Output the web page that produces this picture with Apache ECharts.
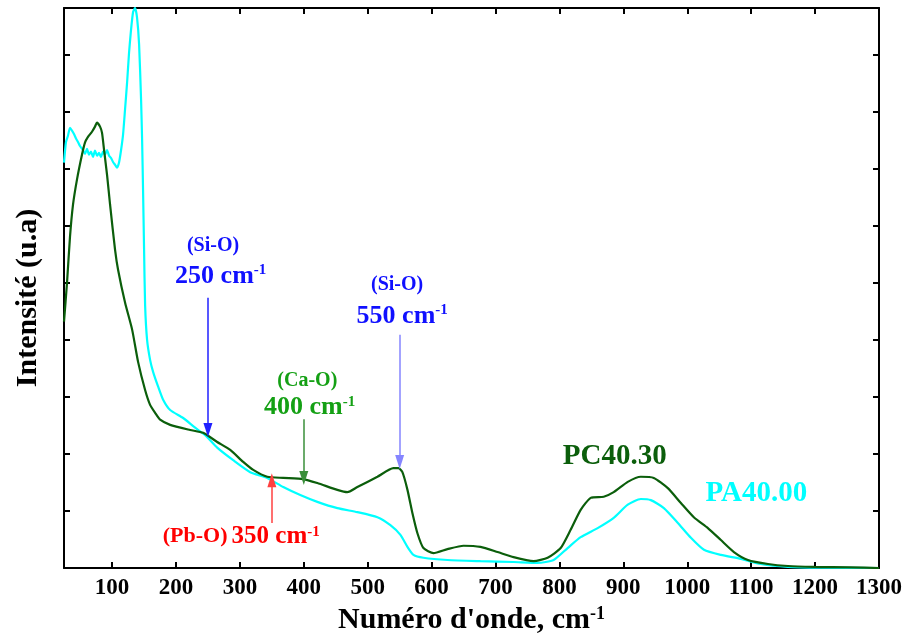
<!DOCTYPE html>
<html><head><meta charset="utf-8">
<script src="https://cdn.jsdelivr.net/npm/echarts@6/dist/echarts.min.js"></script>
<style>html,body{margin:0;padding:0;background:#fff}#c{width:906px;height:633px}</style>
</head><body><div id="c"></div>
<script>
// ---- data ----
const waveTicks = [100,200,300,400,500,600,700,800,900,1000,1100,1200,1300];
const intensityTicks = [1,2,3,4,5,6,7,8,9];

const pcX = [24.8,29.5,34.2,38.9,45.1,53.0,57.6,62.3,68.6,73.3,76.4,81.2,84.3,87.5,92.2,96.9,104.7,109.4,120.4,131.4,140.8,151.7,159.5,167.4,175.2,190.9,222.2,242.5,264.5,284.9,305.2,320.9,342.8,367.9,399.2,421.2,452.5,468.1,483.8,515.2,540.2,548.1,554.3,562.2,570.0,577.8,587.2,602.9,624.8,649.9,676.5,703.2,728.2,759.6,781.5,801.9,817.5,833.2,848.9,869.3,884.9,906.9,927.3,947.6,969.6,990.0,1010.3,1032.3,1052.6,1073.0,1094.9,1126.3,1157.6,1198.4,1256.3,1300];
const pcY = [4.32,5.00,5.81,6.37,6.81,7.25,7.46,7.56,7.65,7.74,7.81,7.74,7.63,7.33,6.89,6.37,5.58,5.23,4.65,4.18,3.61,3.12,2.86,2.72,2.60,2.51,2.42,2.37,2.21,2.07,1.86,1.72,1.60,1.58,1.56,1.49,1.37,1.33,1.42,1.60,1.75,1.75,1.68,1.37,0.96,0.61,0.35,0.26,0.33,0.39,0.37,0.28,0.19,0.12,0.18,0.35,0.67,1.02,1.23,1.25,1.33,1.51,1.60,1.58,1.40,1.14,0.89,0.70,0.49,0.28,0.14,0.07,0.035,0.02,0.01,0.0];

const paX = [24.8,27.9,31.0,34.2,37.3,40.4,43.6,46.7,49.8,54.5,57.7,60.8,63.9,67.1,70.2,73.3,76.5,79.6,82.7,85.9,89.0,92.1,95.3,98.4,101.5,104.7,107.8,110.9,114.1,117.2,120.3,123.5,126.6,129.7,132.9,136.0,139.1,142.3,145.4,147.0,148.5,150.1,151.7,154.8,159.5,164.2,172.1,179.9,190.9,211.2,230.0,245.7,264.5,289.5,316.2,342.8,367.9,394.5,421.2,452.5,483.8,515.2,535.5,551.2,562.2,571.6,587.2,624.8,676.5,728.2,765.8,790.9,812.8,833.2,859.8,884.9,906.9,927.3,943.0,963.4,985.3,1005.7,1026.1,1052.6,1083.9,1115.2,1157.6,1209.3,1300];
const paY = [7.11,7.47,7.58,7.72,7.67,7.61,7.53,7.47,7.40,7.33,7.26,7.35,7.25,7.30,7.21,7.32,7.23,7.28,7.21,7.30,7.25,7.33,7.23,7.19,7.12,7.07,7.02,7.11,7.33,7.60,8.04,8.51,9.04,9.44,9.75,9.82,9.65,9.18,8.21,7.51,6.63,5.58,4.61,4.00,3.65,3.44,3.18,2.95,2.77,2.63,2.46,2.33,2.11,1.89,1.68,1.58,1.42,1.28,1.16,1.05,0.98,0.89,0.75,0.58,0.37,0.23,0.18,0.14,0.12,0.105,0.09,0.14,0.35,0.54,0.70,0.88,1.11,1.21,1.19,1.05,0.79,0.53,0.32,0.23,0.16,0.07,0.02,0.005,0.0];

// band annotations: wavenumber, arrow start, arrow end (intensity units)
const bandWave  = [250, 550, 400, 350];
const bandFrom  = [4.74, 4.09, 2.61, 0.79];
const bandTo    = [2.42, 1.86, 1.58, 1.54];
const bandBond  = ['(Si-O)', '(Si-O)', '(Ca-O)', '(Pb-O)'];
const bandText  = ['250 cm', '550 cm', '400 cm', '350 cm'];

// ---- layout / style (not data) ----
const FONT = '"Liberation Serif","Times New Roman",serif';
const bandLineColor = ['#2020ff', '#8585ff', '#3a8f3a', '#ff4040'];
const bandTextColor = ['#1010ff', '#1010ff', '#14a014', '#ff0000'];
// label anchor points (data coords) for bond name and wavenumber texts
const bondPos = [[258,5.65],[546,4.96],[405.5,3.29],[230,0.55]];
const numPos  = [[270,5.12],[554,4.42],[409,2.82],[356,0.55]];

const chart = echarts.init(document.getElementById('c'), null, {renderer:'canvas'});

function supRich(size, supSize, color){
  return {
    n:{fontFamily:FONT,fontWeight:'bold',fontSize:size,color:color,opacity:1},
    s:{fontFamily:FONT,fontWeight:'bold',fontSize:supSize,color:color,verticalAlign:'top',opacity:1}
  };
}

const labelData = [];
for (let i=0;i<bandWave.length;i++){
  labelData.push({value:bondPos[i], label:{formatter:bandBond[i], fontFamily:FONT, fontWeight:'bold', fontSize: i===3?22:20, color:bandTextColor[i]}});
  labelData.push({value:numPos[i], label:{formatter:'{n|'+bandText[i]+'}{s|-1}', rich:supRich(i===3?25:26,15,bandTextColor[i])}});
}
labelData.push({value:[886.5,1.95], label:{formatter:'PC40.30', fontFamily:FONT, fontWeight:'bold', fontSize:29, color:'#0b5e0b'}});
labelData.push({value:[1108,1.30], label:{formatter:'PA40.00', fontFamily:FONT, fontWeight:'bold', fontSize:29, color:'#00ffff'}});

const arrowData = bandWave.map((w,i)=>[
  {coord:[w,bandFrom[i]], lineStyle:{color:bandLineColor[i], width:1.5, type:'solid', opacity:1}},
  {coord:[w,bandTo[i]]}
]);

const axisCommon = {
  type:'value', min:24.8, max:1300,
  axisLine:{show:true, onZero:false, lineStyle:{color:'#000', width:2}},
  axisTick:{show:true, inside:true, length:6, customValues:waveTicks, lineStyle:{color:'#000', width:2}},
  splitLine:{show:false}
};
const yCommon = {
  type:'value', min:0, max:9.82,
  axisLine:{show:true, onZero:false, lineStyle:{color:'#000', width:2}},
  axisTick:{show:true, inside:true, length:6, customValues:intensityTicks, lineStyle:{color:'#000', width:2}},
  axisLabel:{show:false},
  splitLine:{show:false}
};

chart.setOption({
  animation:false,
  backgroundColor:'#fff',
  grid:{left:64, right:27, top:8, bottom:65, containLabel:false, outerBoundsMode:'none'},
  xAxis:[
    Object.assign({}, axisCommon, {
      position:'bottom',
      axisLabel:{show:true, customValues:waveTicks, formatter:(v)=>String(v), fontFamily:FONT, fontWeight:'bold', fontSize:23, color:'#000', margin:9},
      name:"{n|Numéro d'onde, cm}{s|-1}",
      nameLocation:'middle', nameGap:32,
      nameTextStyle:{rich:supRich(30,18,'#000')}
    }),
    Object.assign({}, axisCommon, {position:'top', axisLabel:{show:false}})
  ],
  yAxis:[
    Object.assign({}, yCommon, {
      position:'left',
      name:'Intensité (u.a)', nameLocation:'middle', nameGap:21,
      nameTextStyle:{fontFamily:FONT, fontWeight:'bold', fontSize:30, color:'#000', padding:[0,20,0,0]}
    }),
    Object.assign({}, yCommon, {position:'right'})
  ],
  series:[
    {
      name:'PA40.00', type:'line', showSymbol:false, symbol:'none',
      smooth:0.2,
      data: paX.map((x,i)=>[x,paY[i]]),
      lineStyle:{color:'#00ffff', width:2.2}, z:2
    },
    {
      name:'PC40.30', type:'line', showSymbol:false, symbol:'none',
      smooth:0.2,
      data: pcX.map((x,i)=>[x,pcY[i]]),
      lineStyle:{color:'#0b5e0b', width:2.2}, z:3,
      markLine:{silent:true, symbol:['none','triangle'], symbolSize:[9,14], label:{show:false}, animation:false, data:arrowData}
    },
    {
      name:'labels', type:'scatter', symbolSize:0, silent:true, z:10,
      itemStyle:{opacity:1},
      label:{show:true, position:'inside', opacity:1},
      emphasis:{disabled:true},
      data: labelData
    }
  ]
});
</script>
</body></html>
